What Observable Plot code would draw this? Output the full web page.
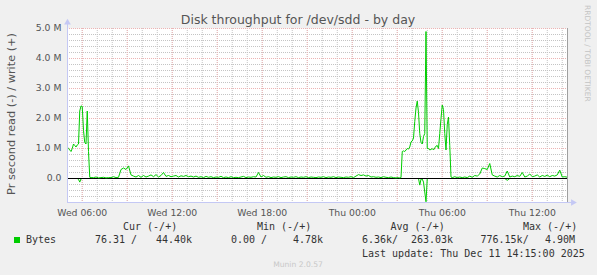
<!DOCTYPE html>
<html>
<head>
<meta charset="utf-8">
<script src="https://cdn.jsdelivr.net/npm/d3@7"></script>
<script src="https://cdn.jsdelivr.net/npm/@observablehq/plot@0.6"></script>
<style>
  html, body { margin: 0; padding: 0; background: #F0F0F0; }
  #chart { width: 597px; height: 275px; }
</style>
</head>
<body>
<div id="chart"></div>
<script>
// ---------------- data (values in millions of bytes / second) ----------------
const titleText = "Disk throughput for /dev/sdd - by day";
const yLabelText = "Pr second read (-) / write (+)";
const sideText = "RRDTOOL / TOBI OETIKER";
const footerText = "Munin 2.0.57";

const xDomainText = ["2025-12-10 05:01", "2025-12-11 14:21"];
const yDomainValues = [-0.8, 5.0];
const yTickValues = [0, 1, 2, 3, 4, 5];
const xLabelTimes = ["2025-12-10 06:00", "2025-12-10 12:00", "2025-12-10 18:00",
                     "2025-12-11 00:00", "2025-12-11 06:00", "2025-12-11 12:00"];

// segment A: 5-minute samples from Wed 05:00
const segAStart = "2025-12-10 05:00";
const segAStep = 5;
const segAWrite = [1.05, 1.0, 0.95, 0.9, 1.0, 1.15, 1.1, 1.05, 1.12, 1.15,
                   2.25, 2.42, 2.4, 1.6, 1.2, 1.15, 2.25, 0.9, 0.04, 0.03];
const segARead  = [0, 0, 0, 0, 0, 0, 0, 0, 0, 0.03,
                   0.12, 0.01, 0, 0, 0, 0, 0, 0, 0, 0];

// segment B: 10-minute samples from Wed 06:45
const segBStart = "2025-12-10 06:45";
const segBStep = 10;
const segBWrite = [0.03, 0.05, 0.02, 0.03, 0.04, 0.02, 0.03, 0.03, 0.06, 0.03,
                   0.04, 0.3, 0.35, 0.3, 0.42, 0.12, 0.08, 0.05, 0.1, 0.04,
                   0.1, 0.05, 0.08, 0.12, 0.06, 0.13, 0.05, 0.1, 0.2, 0.07,
                   0.1, 0.06, 0.08, 0.1, 0.05, 0.09, 0.07, 0.1, 0.06, 0.08,
                   0.05, 0.08, 0.04, 0.06, 0.03, 0.07, 0.04, 0.06, 0.03, 0.05,
                   0.04, 0.07, 0.03, 0.05, 0.03, 0.06, 0.03, 0.04, 0.03, 0.05,
                   0.07, 0.03, 0.05, 0.04, 0.06, 0.05, 0.2, 0.05, 0.1, 0.04,
                   0.06, 0.03, 0.05, 0.04, 0.06, 0.03, 0.05, 0.06, 0.03, 0.05,
                   0.04, 0.06, 0.03, 0.05, 0.04, 0.06, 0.03, 0.05, 0.04, 0.03,
                   0.05, 0.04, 0.06, 0.03, 0.05, 0.04, 0.06, 0.03, 0.05, 0.04,
                   0.03, 0.05, 0.04, 0.06, 0.03, 0.08, 0.13, 0.1, 0.12, 0.08,
                   0.1, 0.05, 0.06, 0.04, 0.05, 0.03, 0.06, 0.04, 0.03, 0.05,
                   0.03, 0.02, 0.03];
const segBRead  = [0, 0, 0, 0, 0, 0, 0, 0, 0, 0,
                   0, 0, 0, 0, 0, 0, 0, 0, 0, 0,
                   0, 0, 0, 0, 0, 0, 0, 0, 0, 0,
                   0, 0, 0, 0, 0, 0, 0, 0, 0, 0,
                   0, 0, 0, 0, 0, 0, 0, 0, 0, 0,
                   0, 0, 0, 0, 0, 0, 0, 0, 0, 0,
                   0, 0, 0, 0, 0, 0, 0, 0, 0, 0,
                   0, 0, 0, 0, 0, 0, 0, 0, 0, 0,
                   0, 0, 0, 0, 0, 0, 0, 0, 0, 0,
                   0, 0, 0, 0, 0, 0, 0, 0, 0, 0,
                   0, 0, 0, 0, 0, 0, 0, 0, 0, 0,
                   0, 0, 0, 0, 0, 0, 0, 0, 0, 0,
                   0, 0, 0];

// segment C: 5-minute samples from Thu 03:10
const segCStart = "2025-12-11 03:10";
const segCStep = 5;
const segCWrite = [0.02, 0.03, 0.9, 0.92, 0.9, 0.95, 1.0, 0.98, 1.05, 1.22,
                   1.25, 1.35, 1.9, 2.35, 2.58, 2.2, 1.5, 1.2, 1.15, 1.4,
                   1.5, 4.90, 1.0, 1.0, 0.95, 0.97, 1.0, 0.95, 1.02, 1.08,
                   1.1, 1.0, 1.5, 2.0, 2.45, 2.3, 1.5, 0.95, 1.8, 2.05,
                   1.1, 0.05, 0.03];
const segCRead  = [0, 0, 0, 0, 0, 0, 0, 0, 0, 0,
                   0, 0, 0, 0, 0, 0, 0.22, 0.02, 0.02, 0.12,
                   0.45, 0.776, 0, 0, 0, 0, 0, 0, 0, 0,
                   0, 0, 0, 0, 0, 0, 0, 0, 0, 0,
                   0, 0, 0];

// segment D: 10-minute samples from Thu 06:50
const segDStart = "2025-12-11 06:50";
const segDStep = 10;
const segDWrite = [0.06, 0.03, 0.05, 0.03, 0.05, 0.03, 0.08, 0.04, 0.1, 0.08,
                   0.15, 0.35, 0.33, 0.3, 0.5, 0.12, 0.08, 0.05, 0.1, 0.06,
                   0.08, 0.25, 0.05, 0.08, 0.06, 0.1, 0.07, 0.2, 0.05, 0.08,
                   0.15, 0.06, 0.08, 0.12, 0.05, 0.1, 0.07, 0.11, 0.06, 0.1,
                   0.08, 0.12, 0.28, 0.05, 0.06, 0.044];
const segDRead  = [0, 0, 0, 0, 0, 0, 0, 0, 0, 0,
                   0, 0, 0, 0, 0, 0, 0, 0, 0, 0,
                   0, 0.06, 0, 0, 0, 0, 0, 0, 0, 0,
                   0, 0, 0, 0, 0, 0, 0, 0, 0, 0,
                   0, 0, 0, 0, 0, 0];

// legend texts
const legendHeaders = ["Cur (-/+)", "Min (-/+)", "Avg (-/+)", "Max (-/+)"];
const legendName = "Bytes";
const legendValues = ["76.31 /", "44.40k", "0.00 /", "4.78k", "6.36k/", "263.03k", "776.15k/", "4.90M"];
const lastUpdateText = "Last update: Thu Dec 11 14:15:00 2025";

// ---------------- build ----------------
const parse = d3.timeParse("%Y-%m-%d %H:%M");
function expand(start, step, w, r) {
  const t0 = parse(start);
  return w.map((v, i) => ({t: d3.timeMinute.offset(t0, i * step), w: v, r: r[i]}));
}
const data = [
  ...expand(segAStart, segAStep, segAWrite, segARead),
  ...expand(segBStart, segBStep, segBWrite, segBRead),
  ...expand(segCStart, segCStep, segCWrite, segCRead),
  ...expand(segDStart, segDStep, segDWrite, segDRead)
];

const xDomain = xDomainText.map(parse);
const xLabels = xLabelTimes.map(parse);
const xMinor = d3.timeHour.every(1).range(xDomain[0], xDomain[1]);
const xMajor = d3.timeHour.every(3).range(xDomain[0], xDomain[1]);
const yMinor = d3.range(-4, 26).map(k => k / 5).filter(v => Math.abs(v - Math.round(v)) > 1e-9);
const yMajor = yTickValues.filter(v => v !== 0);

const green = "#00CC00";
const axisBlue = "#C4C8F4";
const minorGrid = "#C4C4C4";
const majorGrid = "#EDB4B4";

const yTop = yDomainValues[1] + 0.2;
const xArrow = d3.timeMinute.offset(xDomain[1], 22);

const plot = Plot.plot({
  width: 597,
  height: 275,
  marginLeft: 67,
  marginRight: 30,
  marginTop: 28,
  marginBottom: 73,
  style: {background: "#F0F0F0", fontFamily: "DejaVu Sans", fontSize: "9.3px", overflow: "visible"},
  x: {type: "time", domain: xDomain, label: null},
  y: {domain: yDomainValues, label: null},
  marks: [
    Plot.frame({fill: "white", stroke: "none"}),
    Plot.ruleY(yMinor, {stroke: minorGrid, strokeDasharray: "1,1"}),
    Plot.ruleX(xMinor, {stroke: minorGrid, strokeDasharray: "1,1"}),
    Plot.ruleY(yMajor, {stroke: majorGrid, strokeDasharray: "1,1"}),
    Plot.ruleX(xMajor, {stroke: majorGrid, strokeDasharray: "1,1"}),
    Plot.ruleX([xDomain[1]], {stroke: "#A0A0A0"}),
    Plot.line(data, {x: "t", y: d => -d.r, stroke: green, strokeWidth: 1, clip: true}),
    Plot.ruleY([0], {stroke: "#000000", strokeWidth: 1.2}),
    Plot.line(data, {x: "t", y: "w", stroke: green, strokeWidth: 1, clip: true}),
    Plot.ruleX([xDomain[0]], {y1: yDomainValues[0], y2: yTop, stroke: axisBlue}),
    Plot.ruleY([yDomainValues[0]], {x1: xDomain[0], x2: xArrow, stroke: axisBlue}),
    Plot.dot([xDomain[0]], {x: d => d, y: yTop, symbol: "triangle2", r: 3.2, fill: axisBlue, stroke: "none"}),
    Plot.dot([xArrow], {x: d => d, y: yDomainValues[0], symbol: "triangle2", r: 3.2, rotate: 90, fill: axisBlue, stroke: "none"}),
    Plot.axisY(yTickValues, {tickSize: 0, tickPadding: 6, color: "#555", label: null,
      tickFormat: d => d === 0 ? "0.0" : d.toFixed(1) + " M"}),
    Plot.axisX(xLabels, {tickSize: 0, tickPadding: 7, color: "#555", label: null,
      tickFormat: d3.timeFormat("%a %H:%M")})
  ]
});

const svg = d3.select(plot);
function addText(x, y, str, size, fill, family, anchor) {
  return svg.append("text").attr("x", x).attr("y", y).attr("text-anchor", anchor || "start")
    .attr("font-family", family || "DejaVu Sans").attr("font-size", size).attr("fill", fill)
    .attr("xml:space", "preserve").style("white-space", "pre").text(str);
}
// title
addText(298, 24, titleText, 12.5, "#555", "DejaVu Sans", "middle");
// y label
svg.append("text").attr("transform", "translate(15,114) rotate(-90)").attr("text-anchor", "middle")
  .attr("font-family", "DejaVu Sans").attr("font-size", 11.3).attr("fill", "#555").text(yLabelText);
// side text
svg.append("text").attr("transform", "translate(585,5) rotate(90)").attr("text-anchor", "start")
  .attr("font-family", "DejaVu Sans").attr("font-size", 7.5).attr("fill", "#C4C4C4").text(sideText);
// legend
const mono = "DejaVu Sans Mono";
const headerX = [123, 257, 390.5, 523];
legendHeaders.forEach((h, i) => addText(headerX[i], 230, h, 10, "#333", mono));
svg.append("rect").attr("x", 14).attr("y", 237).attr("width", 6).attr("height", 6).attr("fill", green);
addText(26, 243, legendName, 10, "#333", mono);
const valueX = [95, 156, 231, 293, 362, 411, 480.5, 545];
legendValues.forEach((v, i) => addText(valueX[i], 243, v, 10, "#333", mono));
addText(362, 256.5, lastUpdateText, 10, "#333", mono);
addText(298, 267, footerText, 7.6, "#C8C8C8", "DejaVu Sans", "middle");

document.getElementById("chart").appendChild(plot);
</script>
</body>
</html>
